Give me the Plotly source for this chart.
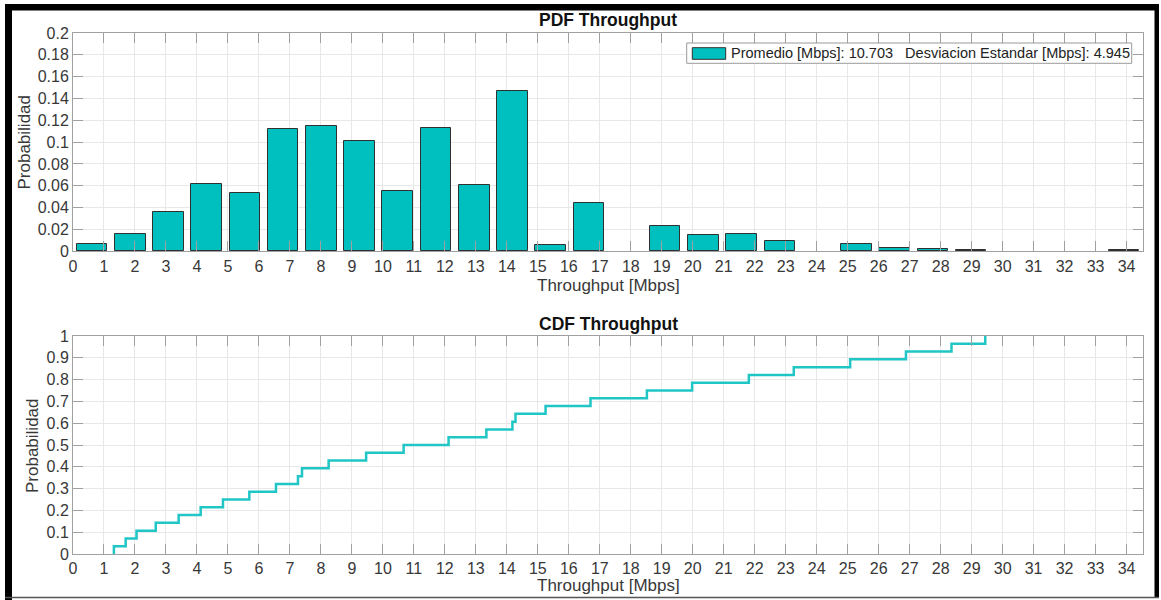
import plotly.graph_objects as go

# ---------------- data ----------------
bin_centers = [0.61, 1.85, 3.08, 4.31, 5.55, 6.78, 8.01, 9.25, 10.48, 11.71,
               12.95, 14.18, 15.41, 16.65, 17.88, 19.11, 20.35, 21.58, 22.81, 24.05,
               25.28, 26.51, 27.75, 28.98, 30.21, 31.45, 32.68, 33.91]
pdf_values = [0.0064, 0.0156, 0.0363, 0.0619, 0.0534, 0.1120, 0.1145, 0.1013, 0.0550, 0.1127,
              0.0605, 0.1469, 0.0058, 0.0440, 0.0, 0.0235, 0.0149, 0.0159, 0.0094, 0.0,
              0.0064, 0.0027, 0.0021, 0.0012, 0.0, 0.0, 0.0, 0.0012]
bin_width = 1.2333

cdf_steps_x = [1.32, 1.70, 2.05, 2.67, 3.41, 4.12, 4.84, 5.69, 6.55, 7.26,
               7.39, 8.25, 9.46, 10.67, 12.12, 13.34, 14.18, 14.28, 15.25, 16.70,
               18.52, 19.98, 21.81, 23.26, 25.08, 26.88, 28.35, 29.44]
cdf_levels = [0.036, 0.071, 0.107, 0.143, 0.179, 0.214, 0.250, 0.286, 0.321, 0.357,
              0.393, 0.429, 0.464, 0.500, 0.536, 0.571, 0.607, 0.643, 0.679, 0.714,
              0.750, 0.786, 0.821, 0.857, 0.893, 0.929, 0.964, 1.000]

x_ticks = list(range(0, 35))
legend_text = "Promedio [Mbps]: 10.703\u00a0\u00a0\u00a0Desviacion Estandar [Mbps]: 4.945"
pdf_title = "PDF Throughput"
cdf_title = "CDF Throughput"
x_title = "Throughput [Mbps]"
y_title = "Probabilidad"

# ---------------- layout helpers ----------------
W, H = 1161, 600
L, R, T, B = 73, 18, 33, 46
PW, PH = W - L - R, H - T - B

def px_x(p):
    return (p - L) / PW

def px_y(p):
    return (H - B - p) / PH

FONT = "Liberation Sans, Arial, Helvetica, sans-serif"
BAR_COLOR = "#00BFBF"
LINE_COLOR = "#20C6C6"
AX_COLOR = "#A0A0A0"
GRID_COLOR = "#E8E8E8"
TXT = "#383838"

fig = go.Figure()

fig.add_trace(go.Bar(
    x=bin_centers, y=pdf_values, width=bin_width * 0.8,
    marker=dict(color=BAR_COLOR,
                line=dict(color="#303030", width=[1 if v > 0 else 0 for v in pdf_values])),
    name=legend_text, showlegend=False, xaxis="x", yaxis="y"))

cdf_x = [cdf_steps_x[0]] + cdf_steps_x
cdf_y = [0.0] + cdf_levels
fig.add_trace(go.Scatter(
    x=cdf_x, y=cdf_y, mode="lines", line=dict(color=LINE_COLOR, width=2.5, shape="hv"),
    showlegend=False, xaxis="x2", yaxis="y2"))

axis_common = dict(
    showline=True, linecolor=AX_COLOR, linewidth=1, mirror="ticks",
    ticks="inside", ticklen=10, tickcolor=AX_COLOR, tickwidth=1,
    showgrid=True, gridcolor=GRID_COLOR, gridwidth=1, zeroline=False,
    tickfont=dict(family=FONT, size=16, color=TXT))

top_dom = [px_y(251.3), 1.0]
bot_dom = [0.0, px_y(336)]

fig.update_layout(
    width=W, height=H,
    margin=dict(l=L, r=R, t=T, b=B),
    paper_bgcolor="white", plot_bgcolor="white",
    bargap=0,
    xaxis=dict(domain=[0, 1], range=[0, 34.53], tickvals=x_ticks, anchor="y", **axis_common),
    yaxis=dict(domain=top_dom, range=[0, 0.2], dtick=0.02, tick0=0, anchor="x", **axis_common),
    xaxis2=dict(domain=[0, 1], range=[0, 34.53], tickvals=x_ticks, anchor="y2", **axis_common),
    yaxis2=dict(domain=bot_dom, range=[0, 1], dtick=0.1, tick0=0, anchor="x2", **axis_common),
)

ann = []
ann.append(dict(text="<b>" + pdf_title + "</b>", x=0.5, y=px_y(20.5), xref="paper", yref="paper",
                xanchor="center", yanchor="middle", showarrow=False,
                font=dict(family=FONT, size=17.5, color="#111111")))
ann.append(dict(text="<b>" + cdf_title + "</b>", x=0.5, y=px_y(323.5), xref="paper", yref="paper",
                xanchor="center", yanchor="middle", showarrow=False,
                font=dict(family=FONT, size=17.5, color="#111111")))
for yy in (285, 585):
    ann.append(dict(text=x_title, x=0.5, y=px_y(yy), xref="paper", yref="paper",
                    xanchor="center", yanchor="middle", showarrow=False,
                    font=dict(family=FONT, size=17, color=TXT)))
for xx, yy in ((24, 142.5), (32, 446)):
    ann.append(dict(text=y_title, x=px_x(xx), y=px_y(yy), xref="paper", yref="paper",
                    xanchor="center", yanchor="middle", showarrow=False, textangle=-90,
                    font=dict(family=FONT, size=17, color=TXT)))
# legend text
ann.append(dict(text=legend_text, x=px_x(729), y=px_y(53.2), xref="paper", yref="paper",
                xanchor="left", yanchor="middle", showarrow=False,
                font=dict(family=FONT, size=14.5, color="#222222")))

shapes = []
# legend box and swatch
shapes.append(dict(type="rect", xref="paper", yref="paper",
                   x0=px_x(686.7), x1=px_x(1131.7), y0=px_y(63.3), y1=px_y(43),
                   line=dict(color="#9A9A9A", width=1), fillcolor="white", layer="above"))
shapes.append(dict(type="rect", xref="paper", yref="paper",
                   x0=px_x(692.3), x1=px_x(725.7), y0=px_y(59.3), y1=px_y(47.7),
                   line=dict(color="#303030", width=1), fillcolor=BAR_COLOR, layer="above"))
# outer frame
shapes.append(dict(type="rect", xref="paper", yref="paper",
                   x0=px_x(5), x1=px_x(12), y0=px_y(600), y1=px_y(4),
                   line=dict(width=0), fillcolor="black"))
shapes.append(dict(type="rect", xref="paper", yref="paper",
                   x0=px_x(5), x1=px_x(1159), y0=px_y(10.5), y1=px_y(4),
                   line=dict(width=0), fillcolor="black"))
shapes.append(dict(type="rect", xref="paper", yref="paper",
                   x0=px_x(1154.5), x1=px_x(1159), y0=px_y(598), y1=px_y(4),
                   line=dict(width=0), fillcolor="black"))
shapes.append(dict(type="line", xref="paper", yref="paper",
                   x0=px_x(5), x1=px_x(1159), y0=px_y(597.5), y1=px_y(597.5),
                   line=dict(color="#555555", width=1.5)))

fig.update_layout(annotations=ann, shapes=shapes)

fig.write_html("out.html",
               config={"displayModeBar": False},
               post_script="document.body.style.margin='0';document.body.style.overflow='hidden';")
